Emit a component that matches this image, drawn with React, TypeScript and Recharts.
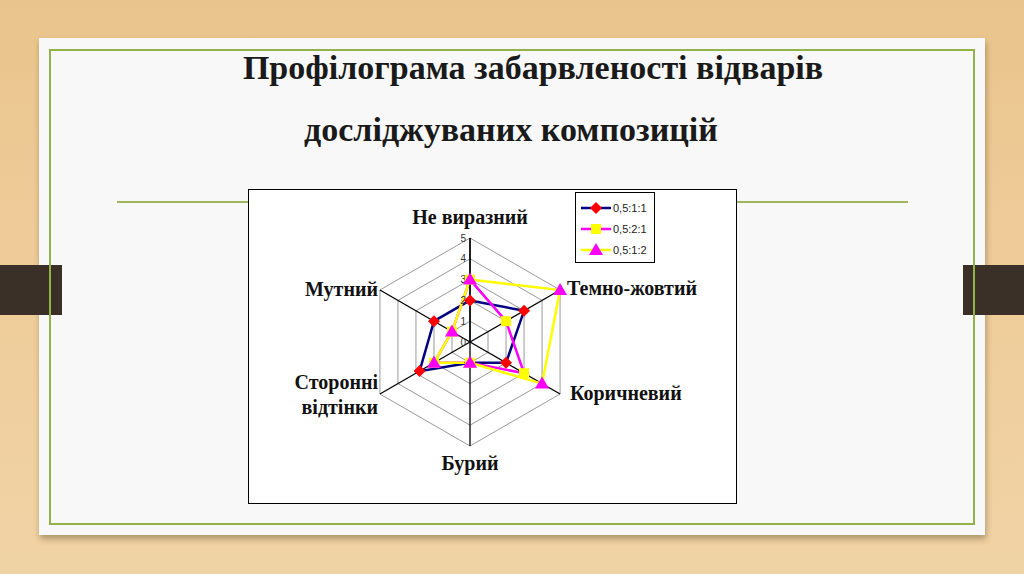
import { RadarChart, Radar, PolarGrid, PolarAngleAxis, PolarRadiusAxis, Legend } from 'recharts';

// categories go clockwise from the top
const categories = ['Не виразний', 'Темно-жовтий', 'Коричневий', 'Бурий', 'Сторонні відтінки', 'Мутний'];
const values111 = [2, 3, 2, 1, 2.8, 2];
const values221 = [3, 2, 3, 1, 2, 1];
const values112 = [3, 5, 4, 1, 2, 1];
const seriesNames = ['0,5:1:1', '0,5:2:1', '0,5:1:2'];
const radiusTicks = [0, 1, 2, 3, 4, 5];

const data = categories.map((name, i) => ({
  name,
  s1: values111[i],
  s2: values221[i],
  s3: values112[i],
}));

const SERIF = '"Liberation Serif", "Times New Roman", serif';
const SANS = '"Liberation Sans", Arial, sans-serif';

// marker shapes
const Diamond = ({ cx, cy, fill = '#ff0000' }: any) => (
  <path d={`M${cx},${cy - 6}L${cx + 6},${cy}L${cx},${cy + 6}L${cx - 6},${cy}Z`} fill={fill} />
);
const Square = ({ cx, cy, fill = '#ffff00' }: any) => (
  <rect x={cx - 5} y={cy - 5} width={10} height={10} fill={fill} />
);
const Triangle = ({ cx, cy, fill = '#ff00ff' }: any) => (
  <path d={`M${cx},${cy - 7}L${cx + 7},${cy + 5}L${cx - 7},${cy + 5}Z`} fill={fill} />
);

const seriesStyle = [
  { key: 's1', line: '#000080', Marker: Diamond },
  { key: 's2', line: '#ff00ff', Marker: Square },
  { key: 's3', line: '#ffff00', Marker: Triangle },
];

// label placement per category (offset from recharts tick point)
const labelPos: Record<string, { anchor: string; dx: number; dy: number }> = {
  'Не виразний': { anchor: 'middle', dx: 0, dy: -13 },
  'Темно-жовтий': { anchor: 'start', dx: 0, dy: 2 },
  'Коричневий': { anchor: 'start', dx: 3, dy: -5 },
  'Бурий': { anchor: 'middle', dx: 0, dy: 9 },
  'Сторонні відтінки': { anchor: 'end', dx: 5, dy: -4 },
  'Мутний': { anchor: 'end', dx: 5, dy: 3 },
};

const AngleTick = (props: any) => {
  const { x, y, payload } = props;
  const p = labelPos[payload.value] || { anchor: 'middle', dx: 0, dy: 0 };
  const words = payload.value === 'Сторонні відтінки' ? ['Сторонні', 'відтінки'] : [payload.value];
  return (
    <text
      x={x + p.dx}
      y={y + p.dy - ((words.length - 1) * 25) / 2}
      textAnchor={p.anchor}
      dominantBaseline="central"
      fontFamily={SERIF}
      fontWeight="bold"
      fontSize={20}
      fill="#111"
    >
      {words.map((w, i) => (
        <tspan key={w} x={x + p.dx} dy={i === 0 ? 0 : 25}>{w}</tspan>
      ))}
    </text>
  );
};

const RadiusTick = (props: any) => {
  const { x, y, payload } = props;
  return (
    <text x={x - 4} y={y} textAnchor="end" dominantBaseline="central" fontFamily={SANS} fontSize={10} fill="#333">
      {payload.value}
    </text>
  );
};

const LegendBox = () => (
  <div
    style={{
      border: '1px solid #000',
      background: '#fff',
      width: 80,
      padding: '4px 0 2px 4px',
      boxSizing: 'border-box',
    }}
  >
    {seriesStyle.map((s, i) => (
      <div key={s.key} style={{ display: 'flex', alignItems: 'center', height: 21 }}>
        <svg width={32} height={16}>
          <line x1={1} y1={8} x2={31} y2={8} stroke={s.line} strokeWidth={2.5} />
          <s.Marker cx={16} cy={8} />
        </svg>
        <span style={{ fontFamily: SANS, fontSize: 11, color: '#222', marginLeft: 1 }}>{seriesNames[i]}</span>
      </div>
    ))}
  </div>
);

export default function App() {
  return (
    <div
      style={{
        position: 'absolute',
        left: 0,
        top: 0,
        width: 1024,
        height: 574,
        overflow: 'hidden',
        background: 'linear-gradient(180deg, #e9c48c 0%, #eecb98 40%, #f0d3a5 100%)',
      }}
    >
      {/* slide */}
      <div
        style={{
          position: 'absolute',
          left: 39,
          top: 38,
          width: 946,
          height: 497,
          background: '#f8f8f8',
          boxShadow: '1px 4px 6px rgba(60,40,10,0.35)',
        }}
      />
      {/* side tabs */}
      <div style={{ position: 'absolute', left: 0, top: 265, width: 62, height: 50, background: '#3a3028' }} />
      <div style={{ position: 'absolute', left: 963, top: 265, width: 61, height: 50, background: '#3a3028' }} />
      <div
        style={{
          position: 'absolute',
          left: 49,
          top: 49,
          width: 926,
          height: 476,
          border: '2px solid #92b24a',
          boxSizing: 'border-box',
        }}
      />

      {/* title */}
      <div
        style={{
          position: 'absolute',
          left: 183,
          width: 700,
          top: 51,
          textAlign: 'center',
          fontFamily: SERIF,
          fontWeight: 'bold',
          fontSize: 34,
          lineHeight: '34px',
          color: '#1a1a1a',
        }}
      >
        Профілограма забарвленості відварів
      </div>
      <div
        style={{
          position: 'absolute',
          left: 161,
          width: 700,
          top: 113,
          textAlign: 'center',
          fontFamily: SERIF,
          fontWeight: 'bold',
          fontSize: 34,
          lineHeight: '34px',
          color: '#1a1a1a',
        }}
      >
        досліджуваних композицій
      </div>

      {/* rule under title */}
      <div style={{ position: 'absolute', left: 117, top: 201, width: 791, height: 2, background: '#a2b55c' }} />

      {/* chart box */}
      <div
        style={{
          position: 'absolute',
          left: 248,
          top: 189,
          width: 489,
          height: 315,
          border: '1.5px solid #000',
          boxSizing: 'border-box',
          background: '#fff',
        }}
      >
        <RadarChart
          width={486}
          height={312}
          data={data}
          cx={221}
          cy={152}
          outerRadius={104}
          startAngle={90}
          endAngle={-270}
          margin={{ top: 0, right: 0, bottom: 0, left: 0 }}
        >
          <PolarGrid gridType="polygon" stroke="#9a9a9a" strokeWidth={1} radialLines={false} />
          <PolarGrid gridType="polygon" stroke="#000" strokeWidth={1.3} polarRadius={[]} />
          <PolarAngleAxis dataKey="name" tick={<AngleTick />} tickLine={false} axisLine={false} />
          <PolarRadiusAxis
            angle={90}
            domain={[0, 5]}
            ticks={radiusTicks as any}
            tickCount={6}
            tick={<RadiusTick />}
            tickLine={false}
            axisLine={{ stroke: '#000', strokeWidth: 1.3 }}
          />
          {seriesStyle.map((s, i) => (
            <Radar
              key={s.key}
              name={seriesNames[i]}
              dataKey={s.key}
              stroke={s.line}
              strokeWidth={2.5}
              fill="none"
              fillOpacity={0}
              isAnimationActive={false}
              dot={(p: any) => <s.Marker key={`${s.key}-${p.index}`} cx={p.cx} cy={p.cy} />}
            />
          ))}
          <Legend
            content={<LegendBox />}
            wrapperStyle={{ position: 'absolute', left: 326, top: 2, width: 80 }}
          />
        </RadarChart>
      </div>
    </div>
  );
}
